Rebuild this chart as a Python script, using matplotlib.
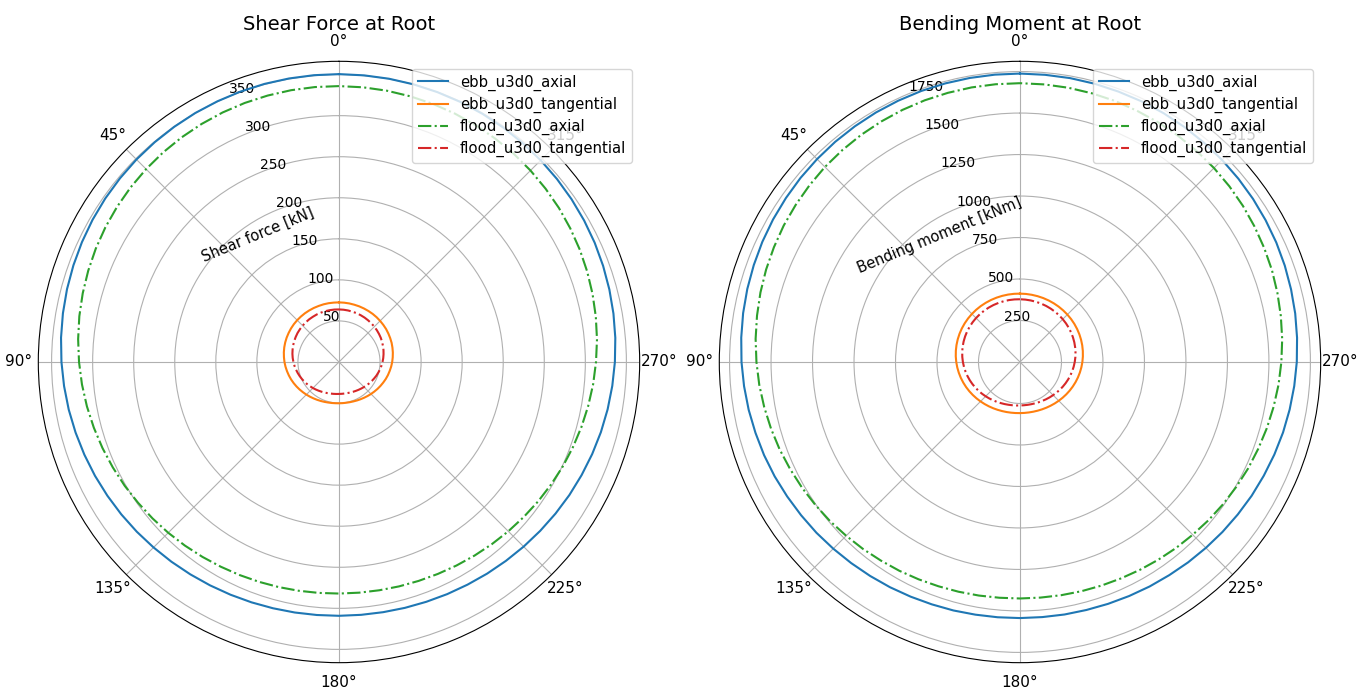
import numpy as np
import matplotlib
matplotlib.use("Agg")
import matplotlib.pyplot as plt

# azimuth angles in degrees (0 at top, counter-clockwise), 5 deg steps
azimuth = list(range(0, 360, 5))

# shear force at root [kN]
shear_ebb_axial = [
    350.6, 350.6, 350.6, 350.6, 350.5, 350.3, 350.1, 349.7, 349.3, 348.8, 348.1, 347.4,
    346.5, 345.4, 344.2, 342.9, 341.4, 339.8, 338.0, 336.1, 334.2, 332.1, 330.0, 327.9,
    325.7, 323.6, 321.5, 319.4, 317.5, 315.7, 314.1, 312.7, 311.5, 310.5, 309.8, 309.3,
    309.1, 309.1, 309.4, 310.0, 310.8, 311.9, 313.1, 314.6, 316.2, 318.0, 319.9, 321.9,
    324.0, 326.0, 328.1, 330.2, 332.2, 334.1, 336.0, 337.8, 339.4, 340.9, 342.3, 343.6,
    344.7, 345.7, 346.6, 347.4, 348.0, 348.6, 349.1, 349.5, 349.8, 350.1, 350.3, 350.4]
shear_ebb_tang = [
    72.6, 72.6, 72.7, 72.7, 72.6, 72.6, 72.5, 72.4, 72.2, 72.0, 71.7, 71.3,
    70.8, 70.3, 69.7, 69.0, 68.2, 67.3, 66.4, 65.4, 64.3, 63.2, 62.1, 60.9,
    59.7, 58.5, 57.3, 56.2, 55.1, 54.1, 53.2, 52.4, 51.7, 51.1, 50.7, 50.4,
    50.3, 50.3, 50.4, 50.7, 51.1, 51.7, 52.4, 53.2, 54.1, 55.1, 56.1, 57.2,
    58.3, 59.4, 60.6, 61.7, 62.7, 63.8, 64.8, 65.7, 66.6, 67.4, 68.2, 68.8,
    69.4, 70.0, 70.4, 70.8, 71.2, 71.5, 71.7, 71.9, 72.1, 72.2, 72.4, 72.5]
shear_flood_axial = [
    336.0, 336.1, 336.1, 335.9, 335.7, 335.3, 334.7, 334.0, 333.2, 332.2, 331.1, 329.8,
    328.4, 326.8, 325.0, 323.1, 321.1, 318.9, 316.6, 314.2, 311.7, 309.1, 306.5, 303.9,
    301.4, 298.8, 296.4, 294.1, 291.9, 289.8, 287.9, 286.3, 284.9, 283.8, 282.9, 282.3,
    282.0, 282.0, 282.3, 282.9, 283.7, 284.8, 286.2, 287.8, 289.6, 291.6, 293.7, 296.0,
    298.3, 300.8, 303.2, 305.7, 308.2, 310.7, 313.0, 315.4, 317.6, 319.7, 321.7, 323.6,
    325.3, 327.0, 328.4, 329.8, 331.0, 332.0, 333.0, 333.8, 334.5, 335.0, 335.5, 335.8]
shear_flood_tang = [
    64.0, 64.1, 64.1, 64.1, 64.0, 63.9, 63.6, 63.4, 63.0, 62.6, 62.1, 61.6,
    60.9, 60.2, 59.4, 58.5, 57.6, 56.6, 55.5, 54.4, 53.2, 52.0, 50.8, 49.6,
    48.4, 47.2, 46.0, 44.9, 43.8, 42.8, 41.9, 41.1, 40.4, 39.8, 39.4, 39.1,
    38.9, 38.9, 39.0, 39.2, 39.6, 40.1, 40.7, 41.4, 42.2, 43.1, 44.1, 45.1,
    46.2, 47.3, 48.5, 49.6, 50.8, 51.9, 53.0, 54.1, 55.1, 56.1, 57.0, 57.9,
    58.8, 59.5, 60.2, 60.8, 61.4, 61.9, 62.4, 62.8, 63.2, 63.4, 63.7, 63.9]

# bending moment at root [kNm]
moment_ebb_axial = [
    1738, 1738, 1738, 1738, 1738, 1737, 1736, 1734, 1732, 1729, 1726, 1722,
    1718, 1713, 1707, 1701, 1694, 1686, 1678, 1669, 1660, 1650, 1641, 1631,
    1620, 1610, 1601, 1591, 1582, 1574, 1567, 1560, 1554, 1550, 1546, 1544,
    1543, 1543, 1545, 1547, 1551, 1556, 1562, 1568, 1576, 1584, 1593, 1602,
    1612, 1621, 1631, 1641, 1650, 1659, 1668, 1676, 1684, 1691, 1698, 1704,
    1709, 1714, 1718, 1722, 1725, 1728, 1731, 1733, 1734, 1736, 1737, 1737]
moment_ebb_tang = [
    412.0, 412.3, 412.5, 412.6, 412.6, 412.4, 412.0, 411.5, 410.7, 409.6, 408.2, 406.5,
    404.5, 402.0, 399.2, 396.0, 392.4, 388.4, 384.0, 379.3, 374.3, 369.1, 363.6, 358.1,
    352.5, 346.9, 341.4, 336.1, 331.0, 326.3, 322.0, 318.1, 314.8, 312.2, 310.1, 308.7,
    308.0, 308.0, 308.7, 310.1, 312.1, 314.8, 318.0, 321.7, 325.9, 330.4, 335.2, 340.3,
    345.5, 350.8, 356.1, 361.3, 366.4, 371.3, 376.0, 380.4, 384.5, 388.3, 391.7, 394.8,
    397.5, 400.0, 402.1, 403.9, 405.5, 406.9, 408.0, 409.0, 409.9, 410.5, 411.1, 411.6]
moment_flood_axial = [
    1680, 1680, 1680, 1679, 1678, 1676, 1673, 1670, 1666, 1662, 1656, 1650,
    1644, 1636, 1628, 1619, 1609, 1599, 1588, 1577, 1565, 1553, 1541, 1528,
    1516, 1504, 1493, 1481, 1471, 1461, 1453, 1445, 1438, 1433, 1429, 1426,
    1425, 1425, 1427, 1430, 1434, 1439, 1446, 1454, 1463, 1472, 1483, 1494,
    1505, 1517, 1528, 1540, 1552, 1564, 1575, 1586, 1596, 1606, 1616, 1624,
    1632, 1640, 1647, 1653, 1658, 1663, 1667, 1670, 1674, 1676, 1678, 1679]
moment_flood_tang = [
    378.0, 378.5, 378.9, 379.0, 378.9, 378.6, 378.0, 377.1, 376.0, 374.5, 372.6, 370.4,
    367.8, 364.8, 361.4, 357.6, 353.5, 348.9, 344.0, 338.8, 333.3, 327.6, 321.8, 315.8,
    309.8, 303.9, 298.1, 292.4, 287.1, 282.1, 277.5, 273.4, 269.9, 266.9, 264.6, 263.0,
    262.0, 261.7, 262.2, 263.3, 265.1, 267.5, 270.5, 274.1, 278.1, 282.5, 287.3, 292.4,
    297.7, 303.1, 308.6, 314.1, 319.5, 324.8, 330.0, 335.0, 339.7, 344.1, 348.3, 352.1,
    355.7, 359.0, 361.9, 364.6, 367.0, 369.1, 371.0, 372.7, 374.1, 375.4, 376.4, 377.3]

labels = ["ebb_u3d0_axial", "ebb_u3d0_tangential",
          "flood_u3d0_axial", "flood_u3d0_tangential"]
styles = ["-", "-", "-.", "-."]
colours = ["tab:blue", "tab:orange", "tab:green", "tab:red"]


def closed(vals):
    # repeat first point so the loop closes
    return list(vals) + [vals[0]]


theta = np.radians(closed(azimuth))

plt.rcParams["xtick.labelsize"] = 11
plt.rcParams["ytick.labelsize"] = 10

fig = plt.figure(figsize=(13.68, 6.88), dpi=100)
ax1 = fig.add_axes([0.028, 0.0368, 0.4396, 0.8741], projection="polar")
ax2 = fig.add_axes([0.5258, 0.0368, 0.4396, 0.8741], projection="polar")

panels = [
    (ax1, [shear_ebb_axial, shear_ebb_tang, shear_flood_axial, shear_flood_tang],
     "Shear Force at Root", "Shear force [kN]"),
    (ax2, [moment_ebb_axial, moment_ebb_tang, moment_flood_axial, moment_flood_tang],
     "Bending Moment at Root", "Bending moment [kNm]"),
]

for ax, series, title, rlabel in panels:
    ax.set_theta_zero_location("N")
    for vals, lab, ls, col in zip(series, labels, styles, colours):
        ax.plot(theta, closed(vals), ls, color=col, label=lab, linewidth=1.5)
    ax.set_rlabel_position(22.5)
    ax.set_title(title, fontsize=14, pad=3)
    ax.legend(loc="upper right", fontsize=10.7, labelspacing=0.4)
    label_position = ax.get_rlabel_position()
    ax.text(np.radians(label_position + 10), ax.get_rmax() / 2., rlabel,
            rotation=label_position, ha="center", va="center", fontsize=10.5)

fig.savefig("out.png", dpi=100)
